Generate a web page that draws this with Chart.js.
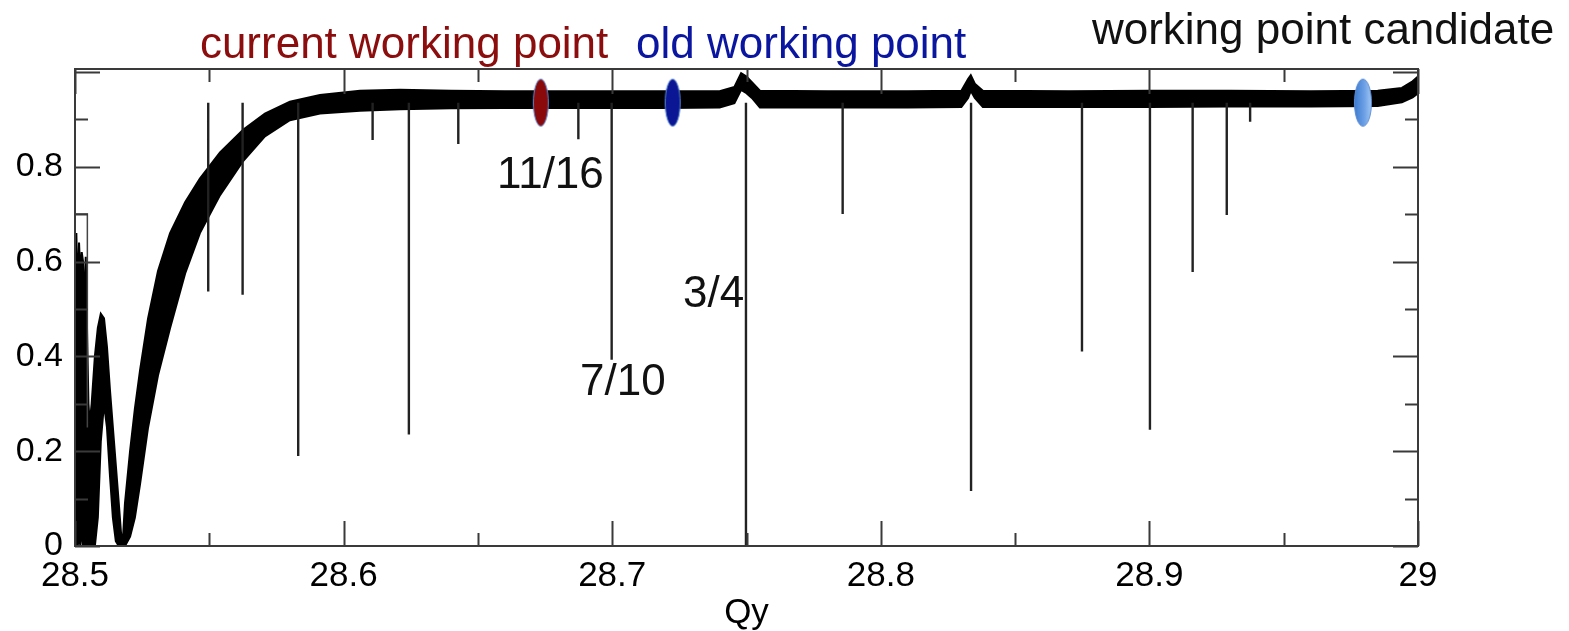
<!DOCTYPE html>
<html lang="en">
<head>
  <meta charset="UTF-8">
  <title>Qy scan</title>
  <script src="https://cdn.jsdelivr.net/npm/chart.js"></script>
  <style>
    body { margin: 0; background: #fff; }
    #qyChart { display: block; }
  </style>
</head>
<body>
<canvas id="qyChart" width="1569" height="631"></canvas>

<script>
  // axis ticks
  const xTicks = [28.5, 28.6, 28.7, 28.8, 28.9, 29];
  const xTickLabels = ["28.5", "28.6", "28.7", "28.8", "28.9", "29"];
  const xMinorTicks = [28.55, 28.65, 28.75, 28.85, 28.95];
  const yTicks = [0, 0.2, 0.4, 0.6, 0.8];
  const yTickLabels = ["0", "0.2", "0.4", "0.6", "0.8"];
  const yMajorMarks = [0, 0.2, 0.4, 0.6, 0.8, 1.0];
  const yMinorTicks = [0.1, 0.3, 0.5, 0.7, 0.9];

  // envelope of the thick black trace (upper / lower edge)
  const bandQ = [
    28.5000, 28.5005, 28.5010, 28.5015, 28.5020, 28.5025, 28.5030, 28.5035, 28.5040, 28.5045, 28.5050,
    28.5055, 28.5062, 28.5074, 28.5085, 28.5096, 28.5108, 28.5119, 28.5130, 28.5141, 28.5152, 28.5163, 28.5171,
    28.5177, 28.5186, 28.5205, 28.5223, 28.5242, 28.5272, 28.5309, 28.5354, 28.5410, 28.5465, 28.5540,
    28.5626, 28.5707, 28.5800, 28.5912, 28.6061, 28.6210,
    28.6400, 28.6600, 28.6800, 28.7000, 28.7200, 28.7400, 28.7455, 28.7480, 28.7500, 28.7520, 28.7550,
    28.7800, 28.8100, 28.8300, 28.8325, 28.8335, 28.8350, 28.8380, 28.8700, 28.9000, 28.9300, 28.9600,
    28.9850, 28.9940, 28.9980, 29.0000
  ];
  const bandHi = [
    0.58, 0.66, 0.52, 0.64, 0.57, 0.62, 0.60, 0.50, 0.61, 0.45, 0.30,
    0.26, 0.30, 0.40, 0.46, 0.49, 0.48, 0.42, 0.33, 0.25, 0.17, 0.09, 0.03,
    0.00, 0.09, 0.20, 0.29, 0.37, 0.48, 0.58, 0.66, 0.725, 0.775, 0.83,
    0.878, 0.912, 0.937, 0.951, 0.96, 0.962,
    0.96, 0.959, 0.959, 0.959, 0.959, 0.959, 0.968, 0.997, 0.99, 0.978, 0.96,
    0.959, 0.959, 0.96, 0.985, 0.993, 0.975, 0.96, 0.959, 0.96, 0.96, 0.959,
    0.96, 0.966, 0.98, 0.99
  ];
  const bandLo = [
    0, 0, 0, 0.02, 0, 0.04, 0, 0, 0, 0, 0,
    0, 0, 0, 0.06, 0.22, 0.30, 0.25, 0.15, 0.06, 0.01, 0, 0,
    0, 0, 0.02, 0.06, 0.13, 0.25, 0.36, 0.46, 0.575, 0.66, 0.74,
    0.812, 0.864, 0.898, 0.912, 0.918, 0.921,
    0.923, 0.924, 0.924, 0.924, 0.924, 0.925, 0.934, 0.962, 0.955, 0.945, 0.925,
    0.925, 0.925, 0.926, 0.945, 0.96, 0.945, 0.926, 0.926, 0.926, 0.927, 0.927,
    0.928, 0.936, 0.946, 0.955
  ];

  // thin outline at the very start of the scan
  const boxQ = [28.5, 28.5046, 28.5046];
  const boxV = [0.70, 0.70, 0.25];

  // resonance dips: position, lowest value (they start from the trace)
  const spikeQ = [28.5496, 28.5624, 28.5831, 28.6108, 28.6243, 28.6427, 28.6874, 28.6998, 28.7498,
                  28.7858, 28.8336, 28.8749, 28.9002, 28.9161, 28.9288, 28.9375];
  const spikeMin = [0.537, 0.53, 0.19, 0.856, 0.235, 0.848, 0.858, 0.393, 0.0,
                    0.70, 0.116, 0.41, 0.245, 0.578, 0.698, 0.895];
  const spikeTop = 0.935;

  // working point markers
  const markerQ = [28.6734, 28.7225, 28.9795];
  const markerV = [0.935, 0.935, 0.935];
  const markerFill = ["#8a0a0c", "#0a1694", "light"];

  // text annotations (left edge / baseline in data units)
  const noteText = ["current working point", "old working point", "working point candidate", "11/16", "3/4", "7/10"];
  const noteQ = [28.5465, 28.7089, 28.8786, 28.6571, 28.7264, 28.6880];
  const noteV = [1.029, 1.029, 1.058, 0.755, 0.505, 0.319];
  const noteColor = ["#8b0d0d", "#0b16a0", "#111111", "#111111", "#111111", "#111111"];

  const FONT = "'Liberation Sans', Arial, Helvetica, sans-serif";

  function ellipseImage(kind) {
    const c = document.createElement("canvas");
    c.width = 20; c.height = 50;
    const g = c.getContext("2d");
    g.beginPath();
    g.ellipse(10, 25, kind === "light" ? 8.5 : 7.5, 23.5, 0, 0, Math.PI * 2);
    if (kind === "light") {
      const grad = g.createLinearGradient(2, 0, 18, 0);
      grad.addColorStop(0, "#3f7cd0");
      grad.addColorStop(0.6, "#6ea2e6");
      grad.addColorStop(1, "#9cc4f2");
      g.fillStyle = grad;
    } else {
      g.fillStyle = kind;
    }
    g.fill();
    g.lineWidth = 1;
    g.strokeStyle = "#5b8bd4";
    g.stroke();
    return c;
  }

  // frame + inward ticks on all four sides, and text notes
  const framePlugin = {
    id: "frame",
    afterDatasetsDraw(chart) {
      const { ctx, chartArea: a, scales: { x, y } } = chart;
      ctx.save();
      ctx.strokeStyle = "#3a3a3a";
      ctx.lineWidth = 2;
      ctx.strokeRect(a.left, a.top, a.right - a.left, a.bottom - a.top);
      ctx.beginPath();
      const xt = (vals, len) => vals.forEach(v => {
        const px = Math.round(x.getPixelForValue(v)) + 0.5;
        ctx.moveTo(px, a.bottom); ctx.lineTo(px, a.bottom - len);
        ctx.moveTo(px, a.top); ctx.lineTo(px, a.top + len);
      });
      const yt = (vals, len) => vals.forEach(v => {
        const py = Math.round(y.getPixelForValue(v)) + 0.5;
        ctx.moveTo(a.left, py); ctx.lineTo(a.left + len, py);
        ctx.moveTo(a.right, py); ctx.lineTo(a.right - len, py);
      });
      xt(xTicks, 25); xt(xMinorTicks, 13);
      yt(yMajorMarks, 25); yt(yMinorTicks, 13);
      ctx.stroke();
      ctx.restore();
    },
    afterDraw(chart) {
      const { ctx, scales: { x, y } } = chart;
      ctx.save();
      ctx.font = "44px " + FONT;
      ctx.textAlign = "left";
      ctx.textBaseline = "alphabetic";
      noteText.forEach((t, i) => {
        ctx.fillStyle = noteColor[i];
        ctx.fillText(t, x.getPixelForValue(noteQ[i]), y.getPixelForValue(noteV[i]));
      });
      ctx.restore();
    }
  };

  document.addEventListener("DOMContentLoaded", function () {
    const ctx = document.getElementById("qyChart").getContext("2d");

    const hiPts = bandQ.map((q, i) => ({ x: q, y: bandHi[i] }));
    const loPts = bandQ.map((q, i) => ({ x: q, y: bandLo[i] }));
    const spikePts = [];
    spikeQ.forEach((q, i) => {
      spikePts.push({ x: q, y: spikeTop }, { x: q, y: spikeMin[i] }, { x: q, y: null });
    });

    new Chart(ctx, {
      type: "line",
      data: {
        datasets: [
          { // upper edge
            data: hiPts, borderColor: "#000", borderWidth: 2, pointRadius: 0,
            fill: false, tension: 0, order: 3
          },
          { // lower edge, filled up to the upper edge
            data: loPts, borderColor: "#000", borderWidth: 2, pointRadius: 0,
            fill: "-1", backgroundColor: "#000", tension: 0, order: 3
          },
          {
            data: boxQ.map((q, i) => ({ x: q, y: boxV[i] })),
            borderColor: "#444", borderWidth: 1.5, pointRadius: 0, fill: false, order: 2
          },
          {
            data: spikePts, borderColor: "#222", borderWidth: 2.4, pointRadius: 0,
            spanGaps: false, fill: false, order: 1
          },
          {
            data: markerQ.map((q, i) => ({ x: q, y: markerV[i] })),
            showLine: false, pointStyle: markerFill.map(ellipseImage), pointRadius: 20, order: 0
          }
        ]
      },
      options: {
        responsive: false,
        animation: false,
        devicePixelRatio: 1,
        layout: { padding: { top: 69, right: 151, left: 0, bottom: 0 } },
        plugins: { legend: { display: false }, tooltip: { enabled: false } },
        scales: {
          x: {
            type: "linear", min: 28.5, max: 29,
            afterBuildTicks: s => { s.ticks = xTicks.map(v => ({ value: v })); },
            afterFit: s => { s.height = 85; },
            grid: { display: false, drawTicks: false },
            border: { display: false },
            ticks: {
              padding: 9, color: "#000", maxRotation: 0, autoSkip: false,
              font: { family: FONT, size: 35 },
              callback: v => xTickLabels[xTicks.indexOf(v)]
            },
            title: { display: true, text: "Qy", color: "#000", font: { family: FONT, size: 35 }, padding: { top: 0, bottom: -3 } }
          },
          y: {
            min: 0, max: 1.006,
            afterBuildTicks: s => { s.ticks = yTicks.map(v => ({ value: v })); },
            afterFit: s => { s.width = 75; },
            grid: { display: false, drawTicks: false },
            border: { display: false },
            ticks: {
              padding: 12, color: "#000", crossAlign: "near",
              font: { family: FONT, size: 34 },
              callback: v => yTickLabels[yTicks.indexOf(v)]
            }
          }
        }
      },
      plugins: [framePlugin]
    });
  });
</script>
</body>
</html>
